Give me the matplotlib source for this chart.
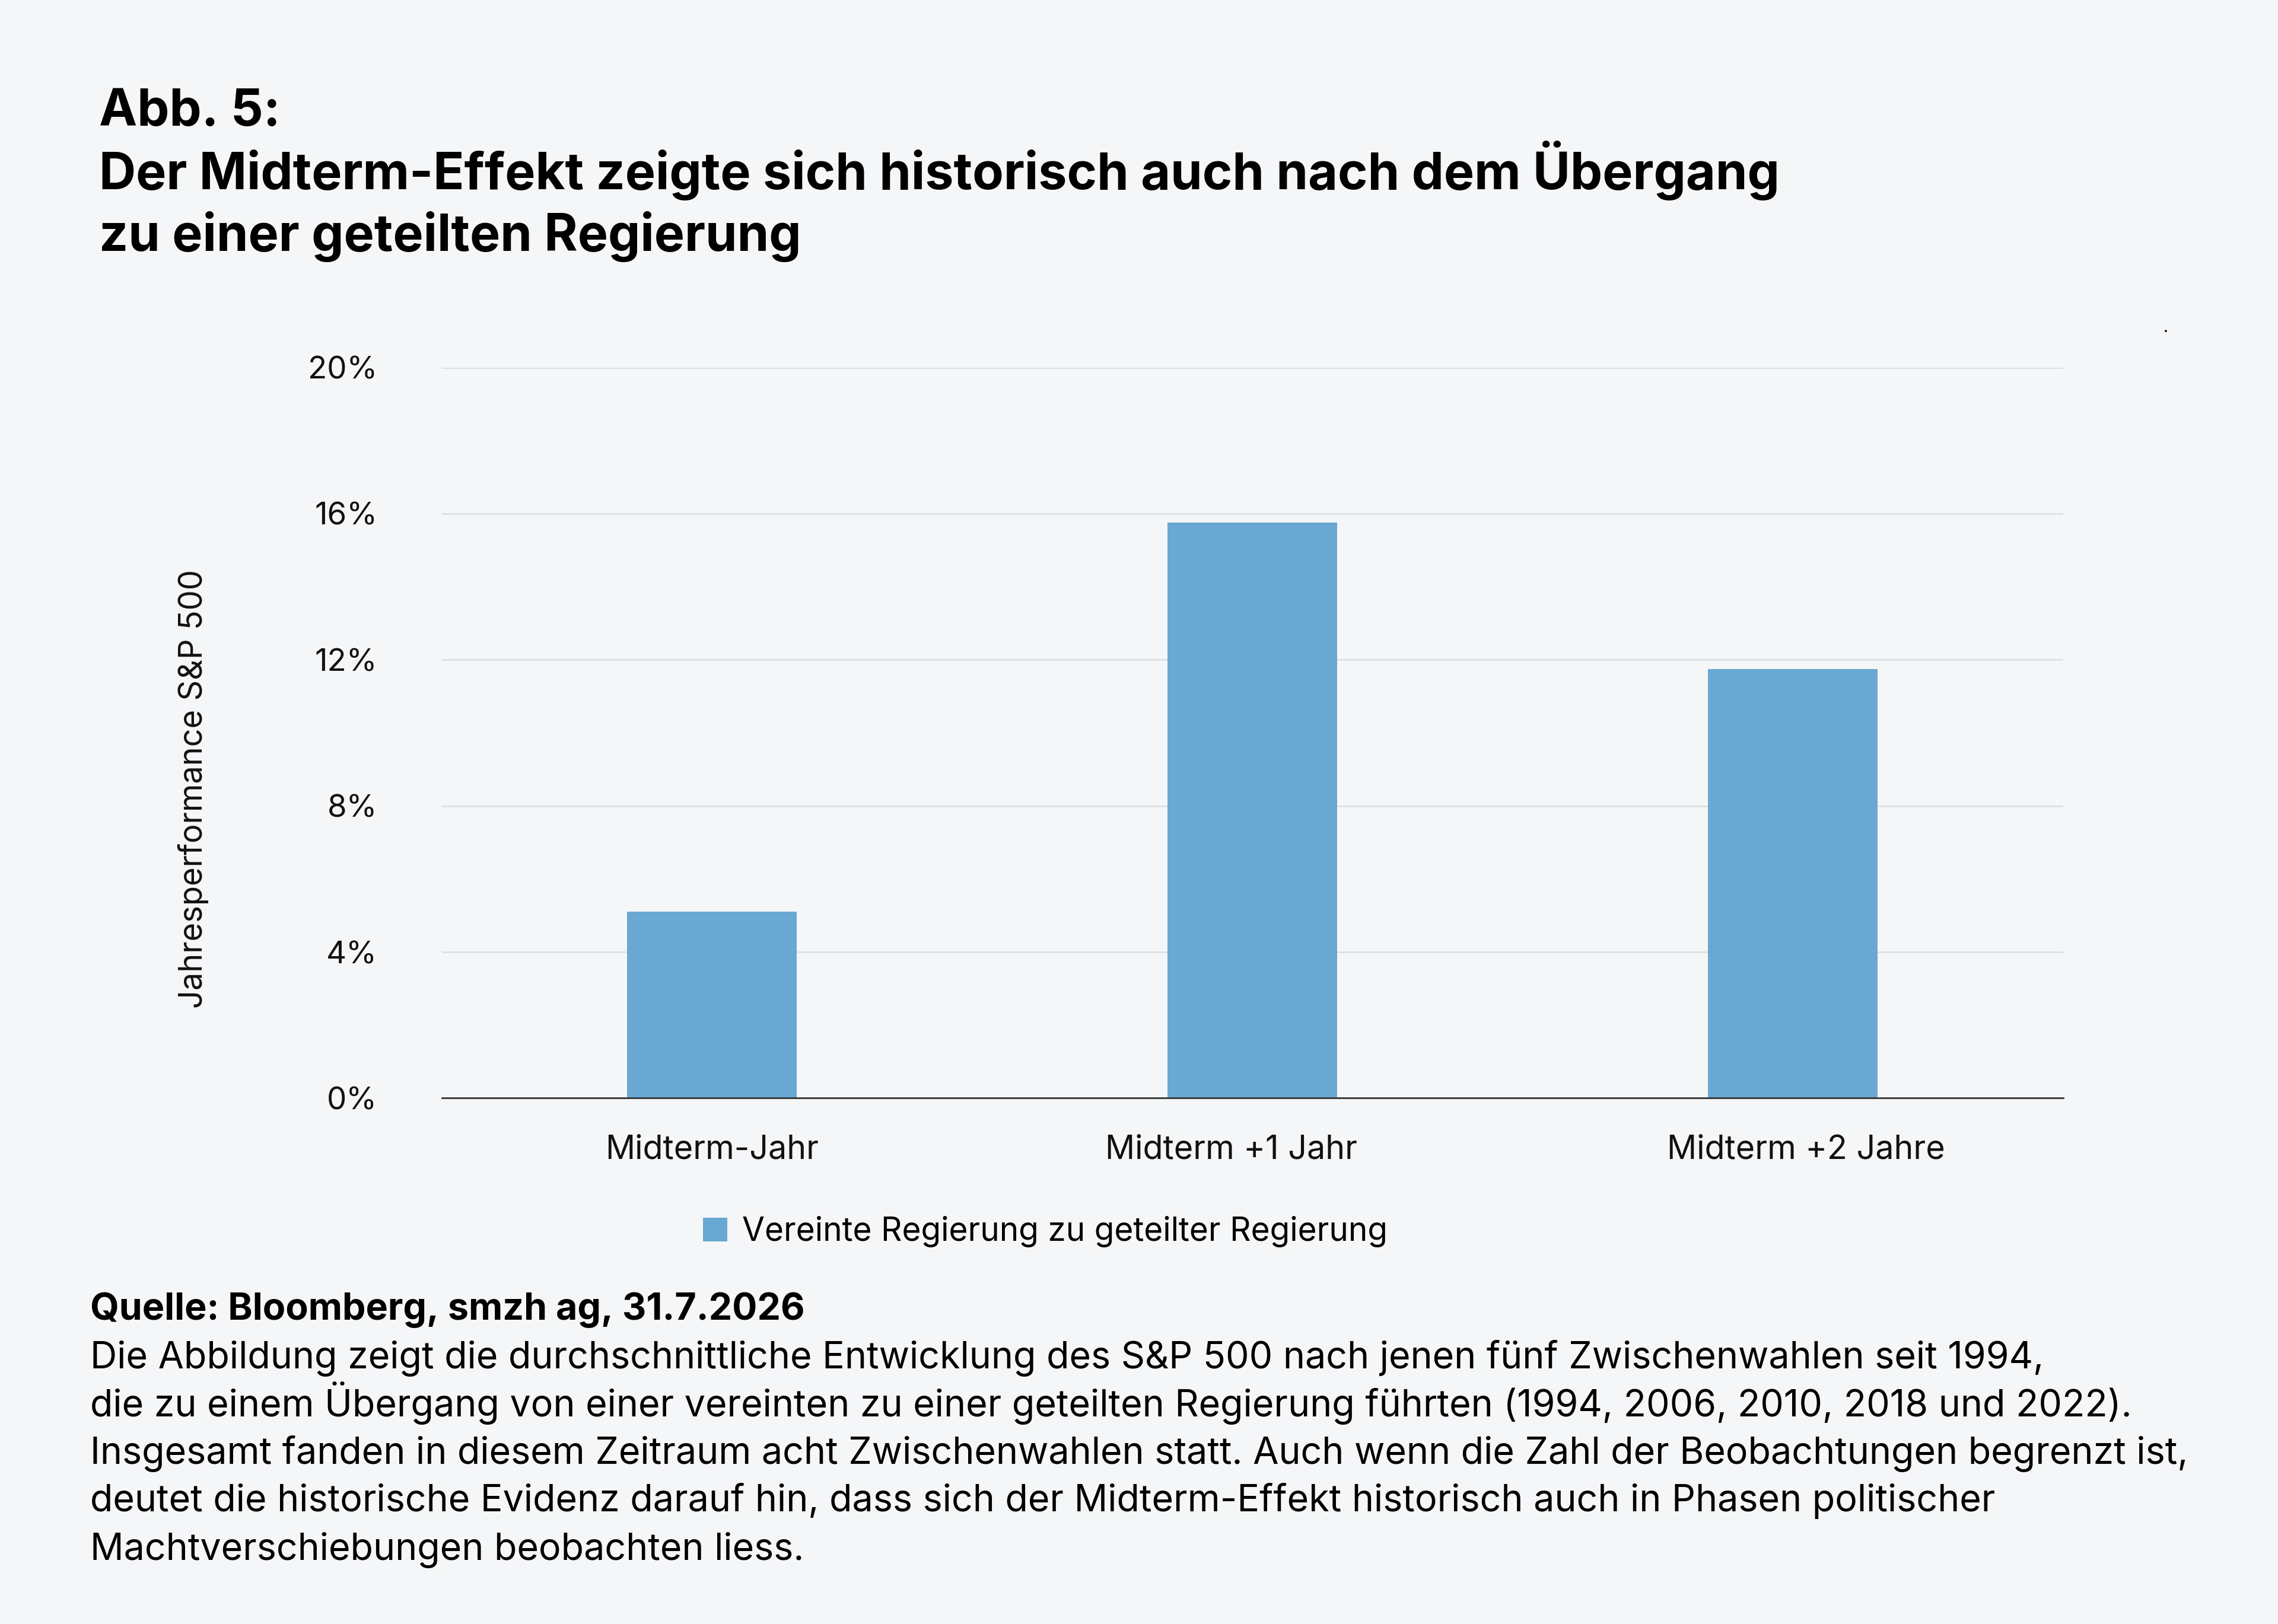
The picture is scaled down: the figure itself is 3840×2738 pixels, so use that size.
import matplotlib.pyplot as plt
from matplotlib.transforms import ScaledTranslation

kategorien = ["Midterm-Jahr", "Midterm +1 Jahr", "Midterm +2 Jahre"]
werte = [5.1, 15.75, 11.75]
y_ticks = [0, 4, 8, 12, 16, 20]
y_tick_labels = ["0%", "4%", "8%", "12%", "16%", "20%"]
serie = "Vereinte Regierung zu geteilter Regierung"

titel_zeilen = ["Abb. 5:",
                "Der Midterm-Effekt zeigte sich historisch auch nach dem Übergang",
                "zu einer geteilten Regierung"]
quelle = "Quelle: Bloomberg, smzh ag, 31.7.2026"
text_zeilen = [
    "Die Abbildung zeigt die durchschnittliche Entwicklung des S&P 500 nach jenen fünf Zwischenwahlen seit 1994,",
    "die zu einem Übergang von einer vereinten zu einer geteilten Regierung führten (1994, 2006, 2010, 2018 und 2022).",
    "Insgesamt fanden in diesem Zeitraum acht Zwischenwahlen statt. Auch wenn die Zahl der Beobachtungen begrenzt ist,",
    "deutet die historische Evidenz darauf hin, dass sich der Midterm-Effekt historisch auch in Phasen politischer",
    "Machtverschiebungen beobachten liess.",
]

bg = "#f5f6f8"
blau = "#69a8d2"

plt.rcParams['font.family'] = ['Inter', 'DejaVu Sans']

fig = plt.figure(figsize=(19.2, 13.69), dpi=200, facecolor=bg)
ax = fig.add_axes([0.1939, 0.3238, 0.7117, 0.4499], facecolor=bg)

x = range(len(kategorien))
ax.bar(x, werte, width=0.313, color=blau, label=serie, zorder=3)

ax.set_xlim(-0.5, 2.5)
ax.set_ylim(0, 20)
ax.set_yticks(y_ticks)
ax.set_yticklabels(y_tick_labels)
ax.set_xticks(list(x))
ax.set_xticklabels(kategorien)
ax.yaxis.grid(True, color="#dcdde0", linewidth=0.9, zorder=0)
ax.tick_params(axis='y', length=0, pad=39, labelsize=19, labelcolor="#111111")
ax.tick_params(axis='x', length=0, pad=22, labelsize=20, labelcolor="#111111")
for s in ['top', 'right', 'left']:
    ax.spines[s].set_visible(False)
ax.spines['bottom'].set_color("#333333")
ax.spines['bottom'].set_linewidth(1.0)
ax.spines['bottom'].set_zorder(4)

# im Original sitzen die Beschriftungen nicht ganz mittig unter den Balken
versatz = [0.0, -0.178, 0.11]
for lbl, dx in zip(ax.get_xticklabels(), versatz):
    lbl.set_transform(lbl.get_transform() + ScaledTranslation(dx, 0, fig.dpi_scale_trans))

fig.text(0.0848, 0.5143, "Jahresperformance S&P 500", rotation=90,
         ha='center', va='center', fontsize=19.5, color="#111111")

fig.legend(loc='center', bbox_to_anchor=(0.4588, 0.2415), frameon=False,
           fontsize=19.8, handlelength=0.75, handleheight=0.75,
           handletextpad=0.45)

# Titel, Zeile für Zeile
titel_y = [0.9225, 0.8835, 0.8455]
for zeile, yy in zip(titel_zeilen, titel_y):
    fig.text(0.0434, yy, zeile, ha='left', va='baseline', fontsize=31,
             fontweight='bold', color="#000000")

fig.text(0.0395, 0.1875, quelle, ha='left', va='baseline', fontsize=22.6,
         fontweight='bold', color="#000000")
for i, zeile in enumerate(text_zeilen):
    fig.text(0.0395, 0.1578 - i * 0.0295, zeile, ha='left', va='baseline',
             fontsize=22.6, color="#000000")

# kleiner Punkt oben rechts wie im Original
fig.text(0.9508, 0.798, ".", ha='center', va='center', fontsize=10, color="#000000")

fig.savefig("out.png", dpi=200, facecolor=bg)
